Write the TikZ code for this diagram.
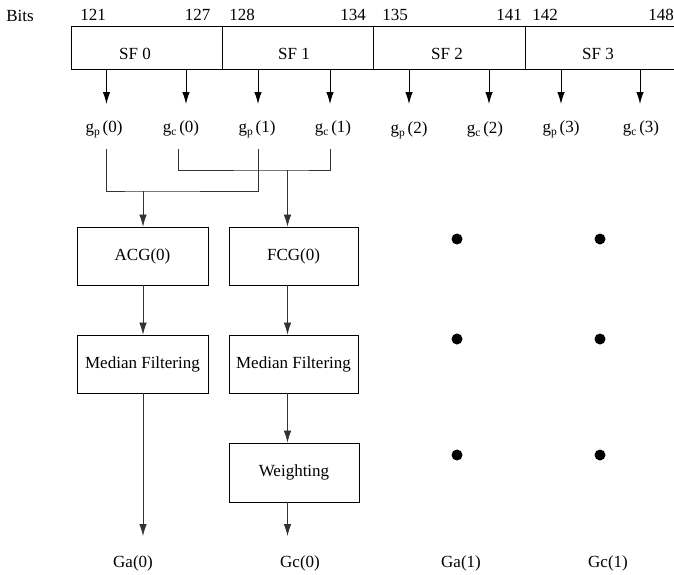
\documentclass[tikz,border=0pt]{standalone}
\usepackage{fontspec}
\setmainfont{Liberation Serif}
\usetikzlibrary{arrows.meta}
% gain symbol with a lowered subscript, upright as in text
\newcommand{\gsub}[2]{g\raisebox{-0.5ex}{\fontsize{11.5}{13}\selectfont #1}\,(#2)}
\begin{document}
\begin{tikzpicture}[x=1pt,y=-1pt,
  every node/.style={font=\fontsize{17}{20}\selectfont, inner sep=0pt},
  txt/.style={anchor=base},
  wire/.style={line width=0.75pt, draw=black!80},
  tip/.style={-{Latex[length=12pt,width=7.5pt]}},
  arr/.style={wire, tip},
  darr/.style={line width=1pt, draw=black, tip},
  field/.style={draw, line width=0.9pt, minimum height=43pt},
  blk/.style={draw, line width=0.8pt},
  dot/.style={circle, fill=black, minimum size=11pt}]
\useasboundingbox (0,0) rectangle (674,574);

% bit positions
\node[txt] (bits) at (20,21) {Bits};
\node[txt] (b121) at (93,20) {121};
\node[txt] (b127) at (197.5,20) {127};
\node[txt] (b128) at (242,20) {128};
\node[txt] (b134) at (353,20) {134};
\node[txt] (b135) at (395,20) {135};
\node[txt] (b141) at (509,20) {141};
\node[txt] (b142) at (545,20) {142};
\node[txt] (b148) at (661,20) {148};

% sub-frame fields
\node[field, minimum width=151pt] (sf0) at (146.5,47.5) {};
\node[field, minimum width=151pt] (sf1) at (297.5,47.5) {};
\node[field, minimum width=152pt] (sf2) at (449,47.5) {};
\node[field, minimum width=151pt] (sf3) at (600.5,47.5) {};
\node[txt] (sf0t) at (135,59) {SF 0};
\node[txt] (sf1t) at (294,59) {SF 1};
\node[txt] (sf2t) at (447,59) {SF 2};
\node[txt] (sf3t) at (598,59) {SF 3};

% gain parameters per sub-frame
\node[txt] (gp0) at (104,132) {\gsub{p}{0}};
\node[txt] (gc0) at (181,132) {\gsub{c}{0}};
\node[txt] (gp1) at (257,132) {\gsub{p}{1}};
\node[txt] (gc1) at (333,132) {\gsub{c}{1}};
\node[txt] (gp2) at (409,133) {\gsub{p}{2}};
\node[txt] (gc2) at (485,133) {\gsub{c}{2}};
\node[txt] (gp3) at (561,132) {\gsub{p}{3}};
\node[txt] (gc3) at (641,132) {\gsub{c}{3}};

\foreach \x in {106.5,186,258,330,409,489,561,640}
  \draw[darr] (\x,69) -- (\x,104);

% processing blocks
\node[blk, minimum width=131pt, minimum height=58pt] (acg) at (142.5,256) {ACG(0)};
\node[blk, minimum width=129pt, minimum height=58pt] (fcg) at (293.5,256) {FCG(0)};
\node[blk, minimum width=131pt, minimum height=58pt] (mf0) at (142.5,364) {Median Filtering};
\node[blk, minimum width=129pt, minimum height=58pt] (mf1) at (293.5,364) {Median Filtering};
\node[blk, minimum width=130pt, minimum height=59pt] (wgt) at (294,472.5) {Weighting};

% outputs
\node[txt] (ga0) at (133,567) {Ga(0)};
\node[txt] (gcz) at (300,567) {Gc(0)};
\node[txt] (ga1) at (461,567) {Ga(1)};
\node[txt] (gc1o) at (608,567) {Gc(1)};

% pairing of the sub-frame gains
\coordinate (jA) at (143,191);
\coordinate (jF) at (287.5,170);
\coordinate (endA) at (143,536);
\coordinate (endC) at (287.5,536);
\draw[wire] (106.5,149) |- (jA) -| (258,149);
\draw[wire] (178,149) |- (jF) -| (330,149);

% signal chains
\draw[arr] (jA) -- (jA |- acg.north);
\draw[arr] (jF) -- (jF |- fcg.north);
\draw[arr] (jA |- acg.south) -- (jA |- mf0.north);
\draw[arr] (jF |- fcg.south) -- (jF |- mf1.north);
\draw[arr] (jF |- mf1.south) -- (jF |- wgt.north);
\draw[arr] (jA |- mf0.south) -- (endA);
\draw[arr] (jF |- wgt.south) -- (endC);

% continuation dots
\foreach \x in {457,600}
  \foreach \y in {239,339,455}
    \node[dot] at (\x,\y) {};
\end{tikzpicture}
\end{document}
